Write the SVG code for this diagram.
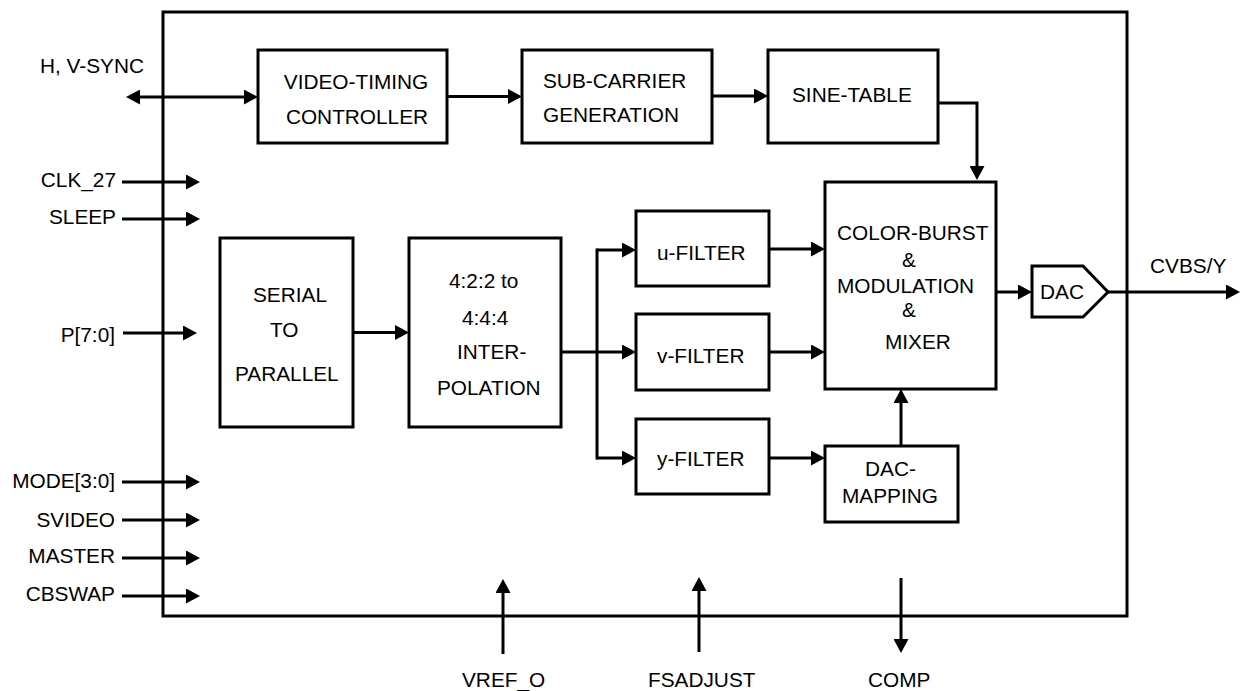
<svg xmlns="http://www.w3.org/2000/svg" width="1242" height="691" viewBox="0 0 1242 691">
<style>
  .box { fill: #fff; stroke: #000; stroke-width: 3; }
  .frame { fill: none; stroke: #000; stroke-width: 3; }
  .wire { fill: none; stroke: #000; stroke-width: 3; }
  .arr { marker-end: url(#ah); }
  .t { font-family: "Liberation Sans", Arial, sans-serif; font-size: 20.8px; fill: #000; }
  .m { text-anchor: middle; }
  .e { text-anchor: end; }
</style>
<defs>
  <marker id="ah" markerUnits="userSpaceOnUse" markerWidth="14" markerHeight="15" refX="10" refY="7.5" orient="auto-start-reverse" viewBox="0 0 14 15">
    <path d="M0,0 L14,7.5 L0,15 z" fill="#000"/>
  </marker>
</defs>
<rect width="1242" height="691" fill="#fff"/>

<g id="chip">
  <rect class="frame" x="163" y="12" width="964" height="604"/>
</g>

<g id="connectors">
  <line class="wire" x1="130" y1="97" x2="254" y2="97" marker-start="url(#ah)" marker-end="url(#ah)"/>
  <line class="wire arr" x1="447" y1="96.5" x2="518" y2="96.5"/>
  <line class="wire arr" x1="712" y1="96" x2="764" y2="96"/>
  <polyline class="wire arr" points="938,103 977,103 977,176"/>
  <line class="wire arr" x1="122" y1="182" x2="196" y2="182"/>
  <line class="wire arr" x1="122" y1="219" x2="196" y2="219"/>
  <line class="wire arr" x1="123" y1="333" x2="193" y2="333"/>
  <line class="wire arr" x1="353" y1="332.5" x2="405" y2="332.5"/>
  <polyline class="wire" points="561,352 597,352"/>
  <line class="wire" x1="597" y1="248.5" x2="597" y2="459.5"/>
  <line class="wire arr" x1="597" y1="250" x2="632" y2="250"/>
  <line class="wire arr" x1="597" y1="352" x2="632" y2="352"/>
  <line class="wire arr" x1="597" y1="458" x2="632" y2="458"/>
  <line class="wire arr" x1="769" y1="249" x2="821" y2="249"/>
  <line class="wire arr" x1="769" y1="352" x2="821" y2="352"/>
  <line class="wire arr" x1="769" y1="458" x2="821" y2="458"/>
  <line class="wire arr" x1="901" y1="446" x2="901" y2="393"/>
  <line class="wire arr" x1="996" y1="292" x2="1028" y2="292"/>
  <line class="wire arr" x1="1108" y1="292" x2="1236" y2="292"/>
  <line class="wire arr" x1="122" y1="482" x2="196" y2="482"/>
  <line class="wire arr" x1="122" y1="520" x2="196" y2="520"/>
  <line class="wire arr" x1="122" y1="558" x2="196" y2="558"/>
  <line class="wire arr" x1="122" y1="596" x2="196" y2="596"/>
  <line class="wire arr" x1="503" y1="654" x2="503" y2="583"/>
  <line class="wire arr" x1="699" y1="652" x2="699" y2="581"/>
  <line class="wire arr" x1="901" y1="578" x2="901" y2="649"/>
</g>

<g id="vtc">
  <rect class="box" x="258" y="50" width="189" height="93"/>
  <text class="t m" x="356" y="89">VIDEO-TIMING</text>
  <text class="t m" x="357" y="124">CONTROLLER</text>
</g>
<g id="subcarrier">
  <rect class="box" x="522" y="50" width="190" height="93"/>
  <text class="t" x="543" y="88">SUB-CARRIER</text>
  <text class="t" x="543" y="122">GENERATION</text>
</g>
<g id="sinetable">
  <rect class="box" x="768" y="50" width="170" height="93"/>
  <text class="t" x="792" y="102">SINE-TABLE</text>
</g>
<g id="colorburst">
  <rect class="box" x="825" y="182" width="171" height="207"/>
  <text class="t" x="837" y="240">COLOR-BURST</text>
  <text class="t m" x="909" y="267">&amp;</text>
  <text class="t" x="837" y="293">MODULATION</text>
  <text class="t m" x="909" y="317">&amp;</text>
  <text class="t" x="885" y="349">MIXER</text>
</g>
<g id="ufilter">
  <rect class="box" x="636" y="211" width="133" height="75"/>
  <text class="t" x="657" y="260">u-FILTER</text>
</g>
<g id="vfilter">
  <rect class="box" x="636" y="314" width="133" height="76"/>
  <text class="t" x="657" y="363">v-FILTER</text>
</g>
<g id="yfilter">
  <rect class="box" x="636" y="419" width="133" height="75"/>
  <text class="t" x="657" y="466">y-FILTER</text>
</g>
<g id="dacmapping">
  <rect class="box" x="825" y="446" width="133" height="76"/>
  <text class="t" x="865" y="476">DAC-</text>
  <text class="t" x="842" y="503">MAPPING</text>
</g>
<g id="serial">
  <rect class="box" x="220" y="238" width="133" height="189"/>
  <text class="t" x="253" y="302">SERIAL</text>
  <text class="t" x="270" y="337">TO</text>
  <text class="t" x="235" y="381">PARALLEL</text>
</g>
<g id="interp">
  <rect class="box" x="409" y="238" width="152" height="189"/>
  <text class="t" x="449" y="288">4:2:2 to</text>
  <text class="t" x="462" y="325">4:4:4</text>
  <text class="t" x="457" y="359">INTER-</text>
  <text class="t" x="437" y="395">POLATION</text>
</g>
<g id="dac">
  <polygon class="box" points="1032,266 1083,266 1108,292 1083,317 1032,317"/>
  <text class="t" x="1040" y="299">DAC</text>
</g>

<g id="labels">
  <text class="t" x="40" y="73">H, V-SYNC</text>
  <text class="t e" x="116" y="187">CLK_27</text>
  <text class="t e" x="116" y="224">SLEEP</text>
  <text class="t e" x="115" y="342">P[7:0]</text>
  <text class="t e" x="115" y="488">MODE[3:0]</text>
  <text class="t e" x="115" y="527">SVIDEO</text>
  <text class="t e" x="115" y="563">MASTER</text>
  <text class="t e" x="115" y="601">CBSWAP</text>
  <text class="t" x="1150" y="273">CVBS/Y</text>
  <text class="t" x="462" y="687">VREF_O</text>
  <text class="t" x="648" y="687">FSADJUST</text>
  <text class="t" x="868" y="687">COMP</text>
</g>
</svg>
